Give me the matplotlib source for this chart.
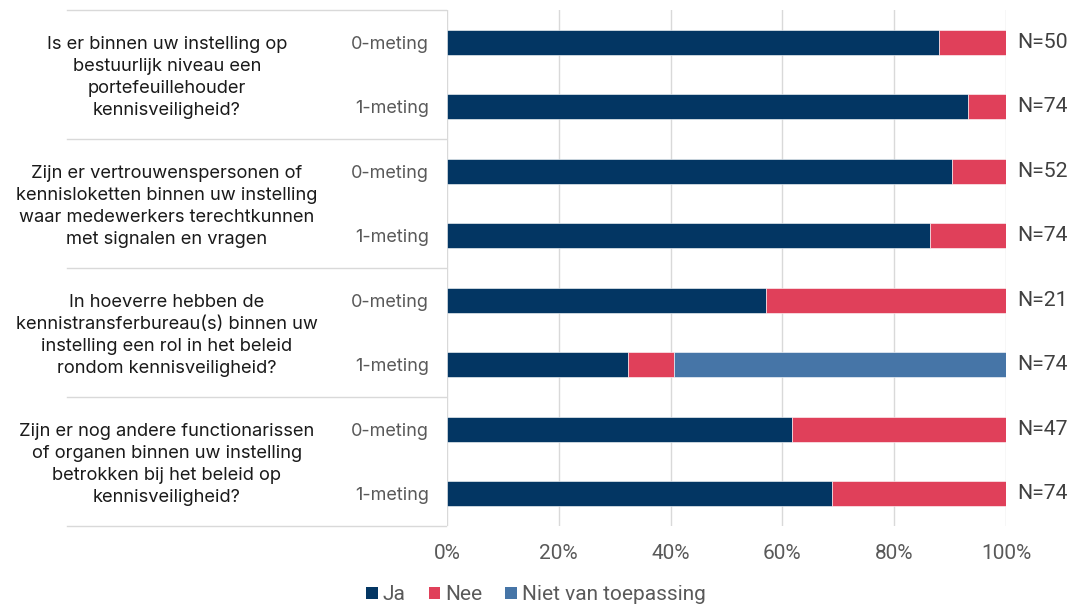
import matplotlib
matplotlib.use("Agg")
import matplotlib.pyplot as plt
import matplotlib.transforms as mtransforms
from matplotlib.lines import Line2D
from matplotlib.patches import Patch

questions = [
    "Is er binnen uw instelling op\nbestuurlijk niveau een\nportefeuillehouder\nkennisveiligheid?",
    "Zijn er vertrouwenspersonen of\nkennisloketten binnen uw instelling\nwaar medewerkers terechtkunnen\nmet signalen en vragen",
    "In hoeverre hebben de\nkennistransferbureau(s) binnen uw\ninstelling een rol in het beleid\nrondom kennisveiligheid?",
    "Zijn er nog andere functionarissen\nof organen binnen uw instelling\nbetrokken bij het beleid op\nkennisveiligheid?",
]
metingen = ["0-meting", "1-meting"] * 4
n_values = [50, 74, 52, 74, 21, 74, 47, 74]
ja = [44, 69, 47, 64, 12, 24, 29, 51]
nee = [6, 5, 5, 10, 9, 6, 18, 23]
nvt = [0, 0, 0, 0, 0, 44, 0, 0]
series_names = ["Ja", "Nee", "Niet van toepassing"]
colors = ["#033663", "#E0405A", "#4675A7"]
xticks = [0, 0.2, 0.4, 0.6, 0.8, 1.0]
xticklabels = ["0%", "20%", "40%", "60%", "80%", "100%"]

W, H = 1072, 608
fig = plt.figure(figsize=(W / 100, H / 100), dpi=100)
ax = fig.add_axes([447 / W, 1 - 526 / H, (1006 - 447) / W, (526 - 10) / H])

rows = list(range(len(n_values)))
ja_p = [a / n for a, n in zip(ja, n_values)]
nee_p = [b / n for b, n in zip(nee, n_values)]
nvt_p = [c / n for c, n in zip(nvt, n_values)]
left2 = ja_p
left3 = [a + b for a, b in zip(ja_p, nee_p)]

bh = 0.39
ax.barh(rows, ja_p, height=bh, color=colors[0], edgecolor="white", linewidth=0.4, zorder=3)
ax.barh(rows, nee_p, left=left2, height=bh, color=colors[1], edgecolor="white", linewidth=0.4, zorder=3)
ax.barh(rows, nvt_p, left=left3, height=bh, color=colors[2], edgecolor="white", linewidth=0.4, zorder=3)

ax.set_xlim(0, 1)
ax.set_ylim(len(rows) - 0.5, -0.5)
ax.set_xticks(xticks)
ax.set_xticklabels(xticklabels, fontfamily="Roboto", fontsize=15, color="#595959")
ax.tick_params(axis="x", length=0, pad=13)
ax.set_yticks(rows)
ax.set_yticklabels(metingen, fontfamily="Inter", fontsize=13, color="#595959")
ax.tick_params(axis="y", length=0, pad=13)
ax.grid(axis="x", color="#D9D9D9", linewidth=1, zorder=0)
for s in ax.spines.values():
    s.set_visible(False)

for r, n in zip(rows, n_values):
    ax.annotate(f"N={n}", xy=(1.0, r), xytext=(8, 0), textcoords="offset points",
                ha="left", va="center", fontfamily="Roboto", fontsize=15.3, color="#404040")

# table separators
trans = mtransforms.blended_transform_factory(fig.transFigure, ax.transData)
for yb in [-0.5, 1.5, 3.5, 5.5, 7.5]:
    ax.add_line(Line2D([67 / W, 446 / W], [yb, yb], transform=trans, color="#D9D9D9",
                       linewidth=1, clip_on=False))

for i, q in enumerate(questions):
    ax.annotate(q, xy=(167 / W, 2 * i + 0.5), xycoords=trans, xytext=(0, -2.2),
                textcoords="offset points", ha="center", va="center",
                multialignment="center", fontfamily="Inter", fontsize=13.2, color="#1A1A1A",
                linespacing=1.4)

handles = [Patch(facecolor=c, edgecolor="none") for c in colors]
leg = fig.legend(handles, series_names, loc="center", bbox_to_anchor=(0.5, 1 - 595 / H),
                 ncol=3, frameon=False, handlelength=0.55, handleheight=0.55,
                 handletextpad=0.25, columnspacing=1.1,
                 prop={"family": "Roboto", "size": 15})
for t in leg.get_texts():
    t.set_color("#595959")

fig.savefig("out.png", dpi=100)
